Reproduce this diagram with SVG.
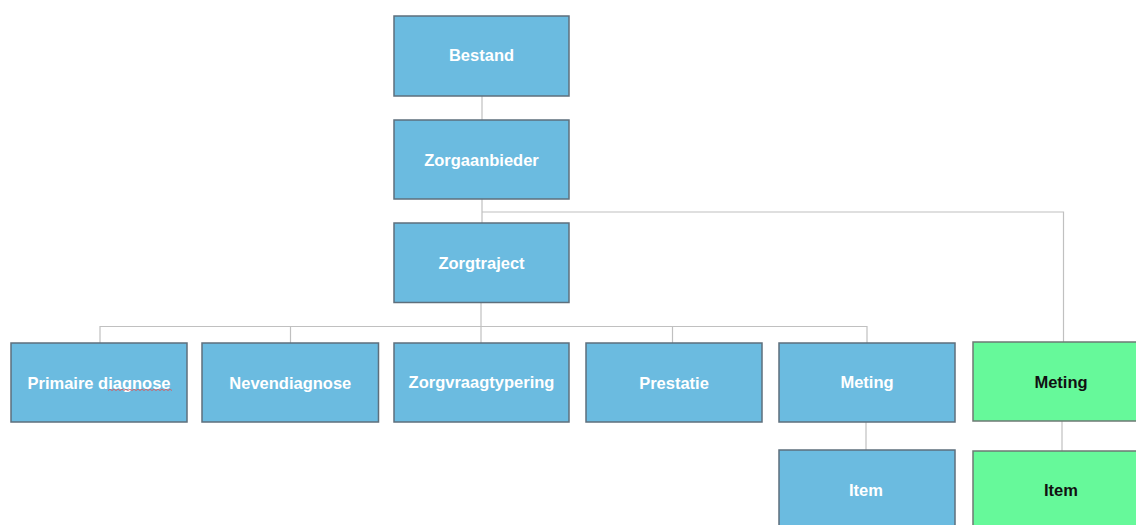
<svg xmlns="http://www.w3.org/2000/svg" width="1136" height="525" viewBox="0 0 1136 525">
<style>
.blue{fill:#6BBBE0;stroke:#5E6F7C;stroke-width:1.5}
.green{fill:#66F99A;stroke:#6E7A74;stroke-width:1.5}
.lbl{font-family:"Liberation Sans",Arial,sans-serif;font-weight:bold;font-size:16.5px;text-anchor:middle;fill:#FFFFFF}
.dark{fill:#111111}
.conn{fill:none;stroke:#C0C0C0;stroke-width:1.2}
</style>
<rect width="1136" height="525" fill="#FFFFFF"/>
<g id="connectors" class="conn">
<path d="M482 96V120"/>
<path d="M482 199V223"/>
<path d="M482 212H1063.5V342"/>
<path d="M481 302.5V326.5"/>
<path d="M100 343V326.5H867V343"/>
<path d="M290.5 326.5V343"/>
<path d="M481 326.5V343"/>
<path d="M672.5 326.5V343"/>
<path d="M866 422V450"/>
<path d="M1062 421V451"/>
</g>
<g id="bestand"><rect class="blue" x="394" y="16" width="175" height="80"/><text class="lbl" x="481.5" y="61">Bestand</text></g>
<g id="zorgaanbieder"><rect class="blue" x="394" y="120" width="175" height="79"/><text class="lbl" x="481.5" y="165.5">Zorgaanbieder</text></g>
<g id="zorgtraject"><rect class="blue" x="394" y="223" width="175" height="79.5"/><text class="lbl" x="481.5" y="269">Zorgtraject</text></g>
<g id="primaire-diagnose"><rect class="blue" x="11" y="343" width="176" height="79"/><text class="lbl" x="99" y="388.5">Primaire diagnose</text>
<path d="M108 390.5l2 -1.2 2 1.2 2 -1.2 2 1.2 2 -1.2 2 1.2 2 -1.2 2 1.2 2 -1.2 2 1.2 2 -1.2 2 1.2 2 -1.2 2 1.2 2 -1.2 2 1.2 2 -1.2 2 1.2 2 -1.2 2 1.2 2 -1.2 2 1.2 2 -1.2 2 1.2 2 -1.2 2 1.2 2 -1.2 2 1.2 2 -1.2 2 1.2 2 -1.2 2 1.2" fill="none" stroke="#E05050" stroke-width="0.8"/></g>
<g id="nevendiagnose"><rect class="blue" x="202" y="343" width="176.5" height="79"/><text class="lbl" x="290.3" y="388.5">Nevendiagnose</text></g>
<g id="zorgvraagtypering"><rect class="blue" x="394" y="343" width="175" height="79"/><text class="lbl" x="481.5" y="388">Zorgvraagtypering</text></g>
<g id="prestatie"><rect class="blue" x="586" y="343" width="176" height="79"/><text class="lbl" x="674" y="388.5">Prestatie</text></g>
<g id="meting"><rect class="blue" x="779" y="343" width="176" height="79"/><text class="lbl" x="867" y="388">Meting</text></g>
<g id="item"><rect class="blue" x="779" y="450" width="176" height="90"/><text class="lbl" x="866" y="496">Item</text></g>
<g id="meting-green"><rect class="green" x="973" y="342" width="176" height="79"/><text class="lbl dark" x="1061" y="388">Meting</text></g>
<g id="item-green"><rect class="green" x="973" y="451" width="176" height="90"/><text class="lbl dark" x="1061" y="496">Item</text></g>
</svg>
